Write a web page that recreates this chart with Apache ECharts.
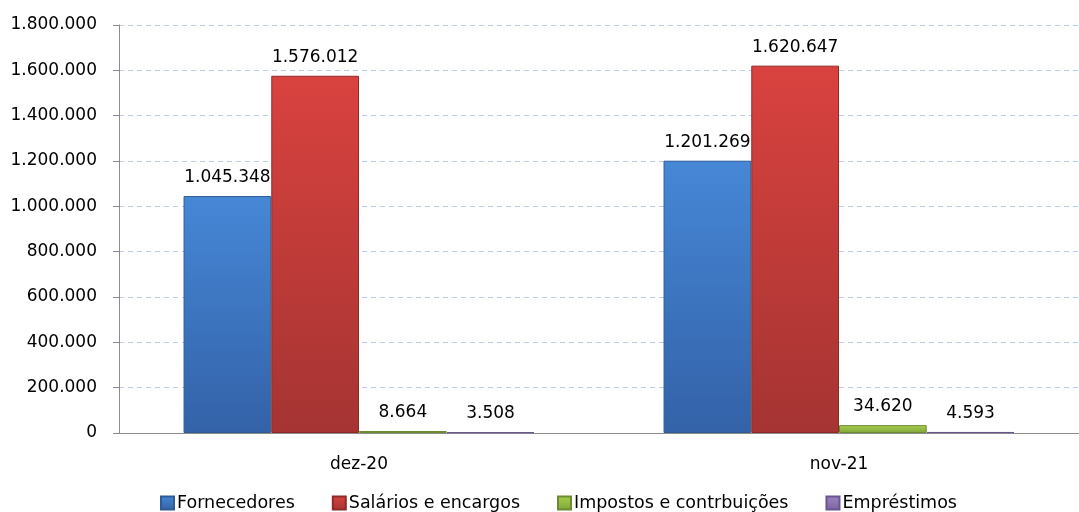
<!DOCTYPE html>
<html>
<head>
<meta charset="utf-8">
<script src="https://cdn.jsdelivr.net/npm/echarts@6/dist/echarts.min.js"></script>
<style>
  html, body { margin: 0; padding: 0; background: #fff; }
  #chart { width: 1079px; height: 512px; }
</style>
</head>
<body>
<div id="chart"></div>
<script>
// dados
var categorias = ['dez-20', 'nov-21'];
var fornecedores = [1045348, 1201269];
var salarios = [1576012, 1620647];
var impostos = [8664, 34620];
var emprestimos = [3508, 4593];

var numFont = 'DejaVu Sans';

function fmt(v) {
    return String(v).replace(/\B(?=(\d{3})+(?!\d))/g, '.');
}

function grad(top, bottom) {
    return new echarts.graphic.LinearGradient(0, 0, 0, 1, [
        { offset: 0, color: top },
        { offset: 1, color: bottom }
    ]);
}

function serie(nome, dados, c1, c2, borda) {
    return {
        name: nome,
        type: 'bar',
        data: dados,
        barGap: '0%',
        barCategoryGap: '26.9%',
        itemStyle: {
            color: grad(c1, c2),
            borderColor: borda,
            borderWidth: 1
        },
        label: {
            show: true,
            position: 'top',
            distance: 10,
            color: '#000',
            fontFamily: numFont,
            fontSize: 17,
            formatter: function (p) { return fmt(p.value); }
        }
    };
}

var chart = echarts.init(document.getElementById('chart'));
var option = {
    animation: false,
    // o eixo continua para la da borda direita, como no original
    grid: { left: 119, right: -13, top: 25, bottom: 79 },
    legend: {
        left: 155,
        top: 489,
        itemWidth: 13,
        itemHeight: 13,
        itemGap: 37,
        icon: 'rect',
        textStyle: { fontFamily: numFont, fontSize: 17.5, color: '#000', padding: [0, 0, 0, -2] },
        data: ['Fornecedores', 'Salários e encargos', 'Impostos e contrbuições', 'Empréstimos']
    },
    xAxis: {
        type: 'category',
        data: categorias,
        axisLine: { lineStyle: { color: '#8c8c8c' } },
        axisTick: { length: 7, lineStyle: { color: '#8c8c8c' } },
        axisLabel: { margin: 23, fontFamily: numFont, fontSize: 17, color: '#000' }
    },
    yAxis: {
        type: 'value',
        min: 0,
        max: 1800000,
        interval: 200000,
        axisLine: { show: true, lineStyle: { color: '#8c8c8c' } },
        axisTick: { show: true, length: 6, lineStyle: { color: '#8c8c8c' } },
        axisLabel: {
            margin: 22,
            fontFamily: numFont,
            fontSize: 17,
            color: '#000',
            formatter: function (v) { return fmt(v); }
        },
        splitLine: { lineStyle: { color: '#b8cdea', type: [5, 4] } }
    },
    series: [
        serie('Fornecedores', fornecedores, '#4687d6', '#3362a8', '#2f5a96'),
        serie('Salários e encargos', salarios, '#d9423f', '#a53432', '#8e2b29'),
        serie('Impostos e contrbuições', impostos, '#a8d04c', '#7fa43a', '#6b8c30'),
        serie('Empréstimos', emprestimos, '#9a86bf', '#7d64a3', '#6a5590')
    ]
};
chart.setOption(option);
</script>
</body>
</html>
